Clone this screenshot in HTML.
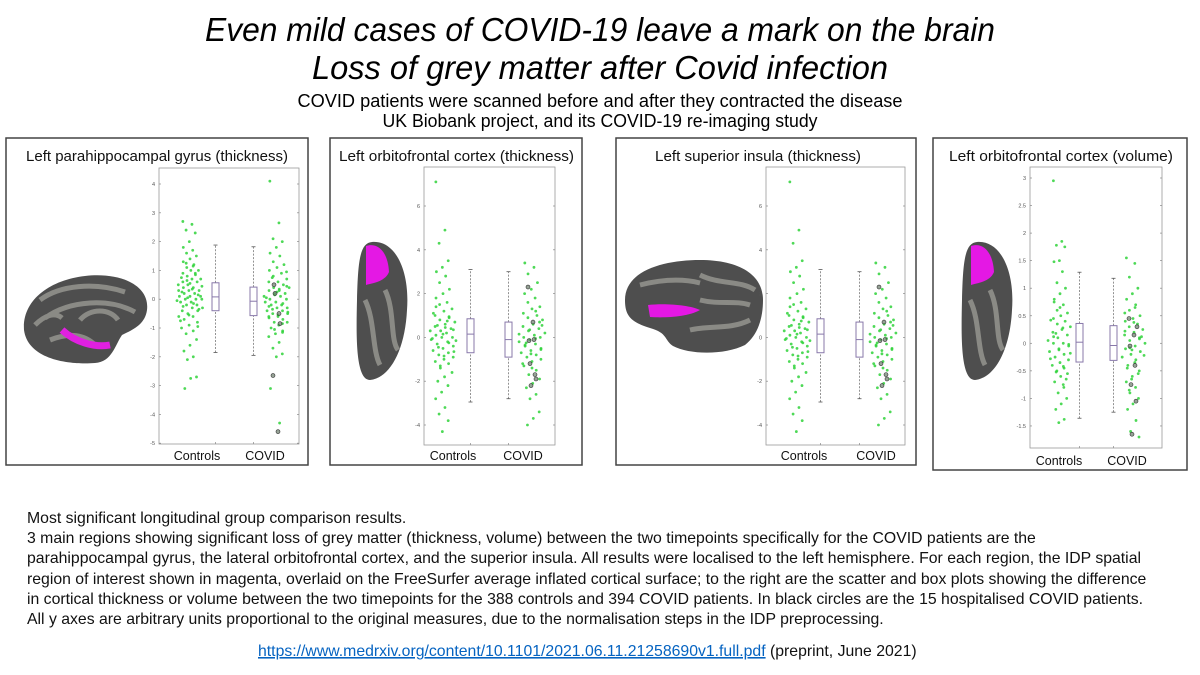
<!DOCTYPE html>
<html><head><meta charset="utf-8"><style>
html,body{margin:0;padding:0;background:#fff;width:1200px;height:675px;overflow:hidden}
svg{display:block}
text{font-family:"Liberation Sans",sans-serif}
</style></head><body>
<svg id="root" width="1200" height="675" viewBox="0 0 1200 675">
<g>
<text x="600" y="41" text-anchor="middle" font-style="italic" font-size="33" textLength="790" lengthAdjust="spacingAndGlyphs">Even mild cases of COVID-19 leave a mark on the brain</text>
<text x="600" y="79" text-anchor="middle" font-style="italic" font-size="33" textLength="576" lengthAdjust="spacingAndGlyphs">Loss of grey matter after Covid infection</text>
<text x="600" y="107" text-anchor="middle" font-size="18" textLength="605" lengthAdjust="spacingAndGlyphs">COVID patients were scanned before and after they contracted the disease</text>
<text x="600" y="127" text-anchor="middle" font-size="18" textLength="435" lengthAdjust="spacingAndGlyphs">UK Biobank project, and its COVID-19 re-imaging study</text>
</g>

<g>
<path d="M24,330 C22,300 50,280 85,276 C120,272 150,285 147,310 C145,325 132,330 122,335 C115,345 112,362 95,363 C70,365 28,360 24,330 Z" fill="#4e4e4e"/>
<path d="M40,300 C60,285 95,282 125,292 M45,318 C70,300 110,298 135,312 M80,320 C90,308 110,308 118,320 M50,340 C70,332 85,335 95,345 M35,325 C45,315 55,312 62,318" stroke="#8a8a85" stroke-width="5" fill="none"/>
<path d="M62,330 C75,342 95,348 110,345" stroke="#e020e0" stroke-width="7" fill="none"/>
</g>
<g>
<path d="M372,242 C395,240 410,270 407,310 C405,350 390,378 370,380 C356,380 356,340 357,300 C358,260 360,243 372,242 Z" fill="#4e4e4e"/>
<path d="M365,300 C375,320 372,350 380,365 M385,290 C395,310 390,340 398,350" stroke="#8a8a85" stroke-width="5" fill="none"/>
<path d="M366,246 C378,242 388,252 389,272 C385,282 372,283 366,285 Z" fill="#e418e4"/>
</g>
<g>
<path d="M625,300 C625,270 665,260 700,260 C740,260 763,275 763,300 C763,318 758,335 745,345 C725,355 690,355 673,346 C664,340 668,333 650,328 C630,322 625,315 625,300 Z" fill="#4e4e4e"/>
<path d="M640,285 C660,280 680,278 700,283 M700,275 C720,285 740,280 755,290 M690,330 C710,325 730,330 750,320 M700,300 C720,305 735,300 750,305" stroke="#8a8a85" stroke-width="5" fill="none"/>
<path d="M648,305 C665,303 690,305 700,310 C688,317 665,318 650,317 Z" fill="#e418e4"/>
</g>
<g>
<path d="M977,242 C1000,240 1015,270 1012,310 C1010,350 995,378 975,380 C961,380 961,340 962,300 C963,260 965,243 977,242 Z" fill="#4e4e4e"/>
<path d="M970,300 C980,320 977,350 985,365 M990,290 C1000,310 995,340 1003,350" stroke="#8a8a85" stroke-width="5" fill="none"/>
<path d="M971,246 C983,242 993,252 994,272 C990,282 977,283 971,285 Z" fill="#e418e4"/>
</g>

<g id="panels"></g>

<g font-size="15.8" fill="#111">
<text x="27" y="523">Most significant longitudinal group comparison results.</text>
<text x="27" y="543">3 main regions showing significant loss of grey matter (thickness, volume) between the two timepoints specifically for the COVID patients are the</text>
<text x="27" y="563">parahippocampal gyrus, the lateral orbitofrontal cortex, and the superior insula. All results were localised to the left hemisphere. For each region, the IDP spatial</text>
<text x="27" y="584">region of interest shown in magenta, overlaid on the FreeSurfer average inflated cortical surface; to the right are the scatter and box plots showing the difference</text>
<text x="27" y="604">in cortical thickness or volume between the two timepoints for the 388 controls and 394 COVID patients. In black circles are the 15 hospitalised COVID patients.</text>
<text x="27" y="624">All y axes are arbitrary units proportional to the original measures, due to the normalisation steps in the IDP preprocessing.</text>
</g>
<text x="258" y="656" font-size="15.8" fill="#111"><tspan fill="#0563c1" text-decoration="underline">https://www.medrxiv.org/content/10.1101/2021.06.11.21258690v1.full.pdf</tspan> (preprint, June 2021)</text>
</svg>
<script>
// ----- data -----
const panelTitles = ["Left parahippocampal gyrus (thickness)","Left orbitofrontal cortex (thickness)","Left superior insula (thickness)","Left orbitofrontal cortex (volume)"];
const categories = ["Controls","COVID"];
const p1Ticks = [-5,-4,-3,-2,-1,0,1,2,3,4];
const p2Ticks = [-4,-2,0,2,4,6];
const p4Ticks = ["-1.5","-1","-0.5","0","0.5","1","1.5","2","2.5","3"];
const p1Controls = [2.7,2.6,2.4,2.3,2.0,1.8,1.7,1.6,1.5,1.4,1.3,1.2,1.1,1.0,1.0,0.9,0.9,0.8,0.7,0.7,0.6,0.6,0.5,0.5,0.4,0.4,0.3,0.3,0.3,0.2,0.2,0.1,0.1,0.1,0.0,0.0,0.0,-0.1,-0.1,-0.2,-0.2,-0.3,-0.3,-0.4,-0.4,-0.5,-0.6,-0.6,-0.7,-0.8,-0.9,-1.0,-1.1,-1.2,-1.4,-1.6,-1.8,-2.0,-2.1,-2.7,-2.75,-3.1,0.85,0.65,0.45,0.35,0.25,0.15,0.05,-0.05,-0.15,-0.25,-0.35,-0.55,-0.75,1.15,1.25,-0.95,0.55,0.75];
const p1Covid = [4.1,2.65,2.1,2.0,1.8,1.6,1.5,1.3,1.2,1.1,1.0,0.9,0.8,0.7,0.6,0.6,0.5,0.4,0.4,0.3,0.3,0.2,0.2,0.1,0.1,0.0,0.0,-0.1,-0.1,-0.2,-0.2,-0.3,-0.3,-0.4,-0.4,-0.5,-0.5,-0.6,-0.6,-0.7,-0.8,-0.8,-0.9,-1.0,-1.1,-1.2,-1.3,-1.5,-1.7,-1.9,-2.0,-3.1,-4.3,0.75,0.45,0.25,0.05,-0.15,-0.35,-0.45,-0.55,-0.65,-0.85,-1.05,0.95,0.35,-0.25,-1.15,0.15];
const p1Hosp = [-2.65,-4.6,0.5,-0.5,0.2,-0.85];
const p1BoxControls = [-1.85,-0.4,0.08,0.57,1.88];
const p1BoxCovid = [-1.95,-0.57,-0.07,0.42,1.82];
const p2Controls = [7.1,4.9,4.3,3.5,3.2,3.0,2.8,2.5,2.2,2.0,1.8,1.6,1.5,1.3,1.2,1.0,0.9,0.8,0.7,0.6,0.5,0.4,0.3,0.3,0.2,0.1,0.0,0.0,-0.1,-0.2,-0.3,-0.4,-0.5,-0.6,-0.7,-0.8,-0.9,-1.0,-1.1,-1.2,-1.4,-1.6,-1.8,-2.0,-2.2,-2.5,-2.8,-3.2,-3.5,-3.8,-4.3,1.1,0.75,0.55,0.35,0.15,-0.05,-0.25,-0.45,-0.65,-0.85,1.4,0.95,-1.3,-0.15,0.45];
const p2Covid = [3.4,3.2,2.9,2.5,2.2,2.0,1.8,1.6,1.4,1.3,1.1,1.0,0.9,0.8,0.6,0.5,0.4,0.3,0.2,0.1,0.0,0.0,-0.1,-0.2,-0.3,-0.4,-0.5,-0.6,-0.7,-0.8,-0.9,-1.0,-1.1,-1.3,-1.5,-1.7,-1.9,-2.1,-2.3,-2.6,-2.8,-3.4,-3.7,-4.0,0.7,0.35,0.15,-0.05,-0.35,-0.55,-0.75,-1.2,1.2,-0.25,0.55,-1.4];
const p2Hosp = [2.3,0.7,-0.15,-0.1,-1.2,-1.7,-2.2,-1.9];
const p2BoxControls = [-2.95,-0.7,0.15,0.85,3.1];
const p2BoxCovid = [-2.8,-0.9,-0.1,0.7,3.0];
const p3Controls = p2Controls.slice();
const p3Covid = p2Covid.slice();
const p3Hosp = p2Hosp.slice();
const p3BoxControls = p2BoxControls.slice();
const p3BoxCovid = p2BoxCovid.slice();
const p4Controls = [2.95,1.85,1.78,1.75,1.5,1.48,1.3,1.1,1.0,0.9,0.8,0.7,0.6,0.55,0.5,0.45,0.4,0.35,0.3,0.25,0.2,0.15,0.1,0.05,0.0,0.0,-0.05,-0.1,-0.15,-0.2,-0.25,-0.3,-0.35,-0.4,-0.45,-0.5,-0.55,-0.6,-0.7,-0.8,-0.9,-1.0,-1.1,-1.2,-1.38,-1.44,0.42,0.28,0.12,-0.02,-0.12,-0.28,-0.42,-0.52,-0.65,0.65,0.75,-0.75,0.18,-0.18];
const p4Covid = [1.55,1.45,1.2,1.0,0.9,0.8,0.7,0.6,0.5,0.45,0.4,0.35,0.3,0.25,0.2,0.15,0.1,0.05,0.0,-0.05,-0.1,-0.15,-0.2,-0.25,-0.3,-0.4,-0.5,-0.6,-0.7,-0.8,-0.9,-1.0,-1.1,-1.2,-1.4,-1.6,-1.7,0.38,0.22,0.08,-0.08,-0.22,-0.35,-0.45,-0.55,-0.65,0.55,0.65,-0.85,0.12,-0.12];
const p4Hosp = [0.45,0.15,-0.05,-0.4,-0.75,-1.05,-1.65,0.3];
const p4BoxControls = [-1.36,-0.34,0.02,0.36,1.29];
const p4BoxCovid = [-1.25,-0.31,-0.04,0.32,1.18];

const NS="http://www.w3.org/2000/svg";
function mk(tag,attrs,parent){const e=document.createElementNS(NS,tag);for(const k in attrs)e.setAttribute(k,attrs[k]);parent.appendChild(e);return e;}
const root=document.getElementById('panels');

function panel(cfg){
  const g=mk('g',{},root);
  
  
  const fr=mk('rect',{x:cfg.fx,y:138,width:cfg.fw,height:cfg.fh,fill:'none',stroke:'#444','stroke-width':1.5},g);
  
  
  const t=mk('text',{x:cfg.tx,y:161,'font-size':15,fill:'#111',textLength:cfg.tw,lengthAdjust:'spacingAndGlyphs'},g);
  t.textContent=cfg.title;
  
  
  const y=v=>cfg.y0-(v-cfg.v0)*cfg.k;
  const ax=mk('rect',{x:cfg.ax0,y:cfg.ay0,width:cfg.ax1-cfg.ax0,height:cfg.ay1-cfg.ay0,fill:'none',stroke:'#999','stroke-width':0.8},g);
  
  
  cfg.ticks.forEach(tv=>{
    const v=parseFloat(tv),yy=y(v);
    mk('line',{x1:cfg.ax0,x2:cfg.ax0+2,y1:yy,y2:yy,stroke:'#888','stroke-width':0.7},g);
    mk('line',{x1:cfg.ax1-2,x2:cfg.ax1,y1:yy,y2:yy,stroke:'#888','stroke-width':0.7},g);
    const tl=mk('text',{x:cfg.ax0-4,y:yy+2,'font-size':5.5,fill:'#555','text-anchor':'end'},g);
    tl.textContent=tv;
    
    
  });
  function scatter(vals,cx,w,name){
    const sg=mk('g',{},g);
    
    
    vals.forEach((v,i)=>{
      const off=(((i*37)%23)/22-0.5)*2*w*(0.55+0.45*Math.exp(-v*v/(cfg.sd*cfg.sd)));
      const c=mk('circle',{cx:cx+off,cy:y(v),r:1.4,fill:'#2fd23a','fill-opacity':0.85},sg);
      
      
    });
  }
  scatter(cfg.ctrl,cfg.sc1,cfg.sw,'controls-points');
  scatter(cfg.cov,cfg.sc2,cfg.sw,'covid-points');
  cfg.hosp.forEach((v,i)=>{
    const c=mk('circle',{cx:cfg.sc2+((i*5)%9-4),cy:y(v),r:2,fill:'#6a7a6a',stroke:'#333','stroke-width':0.6,'fill-opacity':0.7},g);
    
    
  });
  function box(b,x,name){
    const bg=mk('g',{},g);
    
    
    const col='#8878aa';
    mk('line',{x1:x+3.5,x2:x+3.5,y1:y(b[0]),y2:y(b[1]),stroke:'#777','stroke-width':0.8,'stroke-dasharray':'2,1.5'},bg);
    mk('line',{x1:x+3.5,x2:x+3.5,y1:y(b[3]),y2:y(b[4]),stroke:'#777','stroke-width':0.8,'stroke-dasharray':'2,1.5'},bg);
    mk('line',{x1:x+1.5,x2:x+5.5,y1:y(b[0]),y2:y(b[0]),stroke:'#555','stroke-width':0.8},bg);
    mk('line',{x1:x+1.5,x2:x+5.5,y1:y(b[4]),y2:y(b[4]),stroke:'#555','stroke-width':0.8},bg);
    mk('rect',{x:x,y:y(b[3]),width:7,height:y(b[1])-y(b[3]),fill:'#fff',stroke:col,'stroke-width':1},bg);
    mk('line',{x1:x,x2:x+7,y1:y(b[2]),y2:y(b[2]),stroke:col,'stroke-width':1},bg);
  }
  box(cfg.b1,cfg.bx1,'controls-box');
  box(cfg.b2,cfg.bx2,'covid-box');
  [cfg.bx1,cfg.bx2].forEach(bx=>mk('line',{x1:bx+3.5,x2:bx+3.5,y1:cfg.ay1,y2:cfg.ay1-2,stroke:'#888','stroke-width':0.7},g));
  categories.forEach((c,i)=>{
    const tl=mk('text',{x:cfg.lx[i],y:cfg.ly,'font-size':12.5,fill:'#111','text-anchor':'middle'},g);
    tl.textContent=c;
    
    
  });
}
panel({id:'parahippocampal',fx:6,fw:302,fh:327,tx:26,tw:262,title:panelTitles[0],ax0:159,ax1:299,ay0:168,ay1:444,y0:184,v0:4,k:28.8,ticks:p1Ticks,sd:1,ctrl:p1Controls,cov:p1Covid,hosp:p1Hosp,sc1:190,sc2:277,sw:13,b1:p1BoxControls,b2:p1BoxCovid,bx1:212,bx2:250,lx:[197,265],ly:460});
panel({id:'orbitofrontal-thickness',fx:330,fw:252,fh:327,tx:339,tw:235,title:panelTitles[1],ax0:424,ax1:555,ay0:167,ay1:445,y0:206,v0:6,k:21.9,ticks:p2Ticks,sd:1.5,ctrl:p2Controls,cov:p2Covid,hosp:p2Hosp,sc1:443,sc2:532,sw:13,b1:p2BoxControls,b2:p2BoxCovid,bx1:467,bx2:505,lx:[453,523],ly:460});
panel({id:'superior-insula',fx:616,fw:300,fh:327,tx:655,tw:206,title:panelTitles[2],ax0:766,ax1:905,ay0:167,ay1:445,y0:206,v0:6,k:21.9,ticks:p2Ticks,sd:1.5,ctrl:p3Controls,cov:p3Covid,hosp:p3Hosp,sc1:797,sc2:883,sw:13,b1:p3BoxControls,b2:p3BoxCovid,bx1:817,bx2:856,lx:[804,876],ly:460});
panel({id:'orbitofrontal-volume',fx:933,fw:254,fh:332,tx:949,tw:224,title:panelTitles[3],ax0:1030,ax1:1162,ay0:167,ay1:448,y0:178,v0:3,k:55.1,ticks:p4Ticks,sd:0.5,ctrl:p4Controls,cov:p4Covid,hosp:p4Hosp,sc1:1060,sc2:1133,sw:12,b1:p4BoxControls,b2:p4BoxCovid,bx1:1076,bx2:1110,lx:[1059,1127],ly:465});
</script>
</body></html>
